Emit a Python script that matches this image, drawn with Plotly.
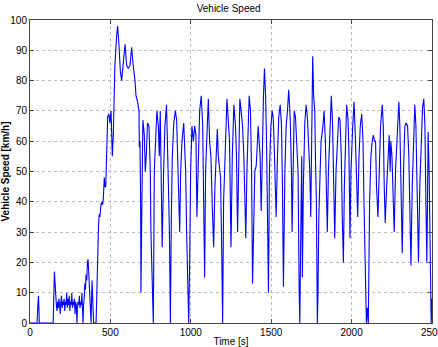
import plotly.graph_objects as go

time_s = [0, 44, 48, 53, 56, 58, 144, 148, 152, 156, 160, 164,
          168, 172, 176, 180, 184, 188, 192, 196, 200, 204, 208, 212, 216, 220, 224, 228,
          232, 236, 240, 244, 248, 252, 256, 260, 264, 268, 272, 276, 280, 284, 288, 292,
          295, 299, 303, 307, 311, 315, 319, 323, 326, 330, 333, 337, 341, 345, 349, 353,
          357, 361, 365, 369, 373, 377, 380, 383, 386, 390, 394, 396, 411, 416, 421, 426,
          431, 435, 441, 446, 451, 456, 462, 466, 471, 477, 483, 491, 497, 504, 512, 518,
          528, 539, 545, 553, 562, 570, 580, 591, 601, 611, 622, 632, 642, 653, 659, 669,
          678, 680, 684, 688, 690, 696, 702, 711, 717, 723, 731, 740, 748, 752, 760, 767,
          773, 781, 789, 798, 804, 810, 818, 822, 831, 839, 849, 855, 861, 867, 873,
          879, 885, 894, 904, 912, 918, 925, 931, 937, 945, 956, 962, 968, 974, 980, 987,
          993, 999, 1007, 1016, 1024, 1032, 1038, 1047, 1055, 1065, 1074, 1080, 1086, 1092,
          1101, 1109, 1117, 1125, 1134, 1142, 1150, 1159, 1165, 1171, 1179, 1185, 1192, 1198,
          1204, 1210, 1219, 1225, 1233, 1241, 1250, 1258, 1268, 1278, 1284, 1291, 1299, 1305,
          1313, 1322, 1330, 1336, 1342, 1349, 1357, 1363, 1371, 1378, 1384, 1390, 1398, 1407,
          1413, 1419, 1425, 1431, 1438, 1444, 1452, 1458, 1465, 1471, 1477, 1483, 1489, 1498,
          1506, 1512, 1518, 1525, 1531, 1539, 1547, 1556, 1564, 1570, 1576, 1585, 1593, 1601,
          1609, 1618, 1626, 1630, 1636, 1643, 1651, 1659, 1667, 1674, 1678, 1684, 1690, 1694,
          1700, 1709, 1717, 1725, 1733, 1740, 1746, 1752, 1758, 1764, 1771, 1775, 1781, 1787,
          1791, 1796, 1802, 1810, 1820, 1829, 1837, 1843, 1849, 1856, 1864, 1874, 1882, 1889,
          1895, 1903, 1911, 1920, 1928, 1936, 1942, 1949, 1955, 1963, 1969, 1978, 1984, 1990,
          1996, 2007, 2015, 2023, 2031, 2038, 2046, 2054, 2063, 2071, 2077, 2085, 2092, 2098,
          2104, 2112, 2120, 2128, 2135, 2143, 2149, 2155, 2164, 2172, 2180, 2191, 2197, 2203,
          2209, 2218, 2226, 2234, 2240, 2244, 2251, 2257, 2265, 2273, 2284, 2294, 2300, 2309,
          2315, 2323, 2331, 2340, 2348, 2356, 2362, 2369, 2377, 2385, 2393, 2400, 2408, 2416,
          2424, 2435, 2441, 2449, 2456, 2462, 2468, 2472, 2476, 2482, 2489, 2493, 2495, 2500]

speed_kmh = [0, 0, 5, 9, 4, 0, 0, 10, 17, 13, 7, 6,
             4, 7, 5, 8, 6, 3, 7, 9, 5, 7, 6, 8, 4, 7, 6, 10,
             5, 8, 6, 9, 4, 7, 6, 10, 5, 7, 6, 8, 3, 7, 6, 0,
             5, 7, 6, 9, 5, 7, 6, 10, 5, 0, 6, 8, 13, 11, 16, 14,
             20, 21, 17, 13, 8, 3, 0, 8, 14, 8, 2, 0, 0, 15, 28, 32,
             36, 35, 39, 40, 39, 41, 48, 45, 45, 60, 68, 69, 66, 70, 55, 62,
             85, 95, 98, 92, 83, 80, 85, 92, 85, 84, 85, 91, 85, 80, 75, 73,
             70, 58, 60, 40, 10, 40, 67, 62, 50, 55, 66, 65, 50, 30, 10, 0,
             50, 60, 70, 65, 55, 70, 40, 25, 50, 65, 72, 62, 45, 30, 0,
             35, 55, 66, 70, 67, 55, 40, 30, 50, 60, 66, 55, 50, 30, 10, 0,
             20, 50, 65, 60, 65, 62, 35, 55, 70, 75, 65, 40, 15, 50,
             65, 74, 60, 55, 38, 25, 45, 60, 64, 55, 50, 48, 25, 0,
             40, 50, 60, 74, 67, 60, 25, 55, 72, 65, 55, 30, 55, 74,
             70, 65, 55, 40, 28, 50, 65, 75, 70, 50, 13, 35, 50, 52,
             58, 65, 60, 55, 37, 60, 75, 84, 75, 60, 40, 10, 50, 65,
             70, 68, 60, 50, 35, 55, 68, 72, 65, 45, 12, 50, 65, 70,
             77, 68, 50, 30, 50, 70, 68, 60, 50, 10, 0, 30, 55, 15,
             45, 66, 72, 68, 60, 50, 35, 70, 88, 75, 70, 55, 40, 0,
             10, 35, 50, 60, 64, 70, 60, 45, 30, 50, 65, 75, 65, 50,
             28, 50, 60, 68, 67, 55, 35, 20, 45, 65, 72, 67, 55, 28,
             50, 65, 73, 62, 50, 35, 55, 65, 69, 60, 40, 10, 0, 5,
             0, 40, 55, 60, 62, 60, 60, 45, 35, 50, 65, 72, 65, 45,
             33, 45, 55, 62, 50, 60, 55, 45, 30, 50, 65, 73, 65, 45,
             23, 50, 65, 66, 65, 55, 40, 19, 45, 60, 72, 65, 40, 20,
             45, 65, 71, 74, 65, 40, 20, 40, 63, 50, 20, 10, 0, 8]

x_ticks = [0, 500, 1000, 1500, 2000, 2500]
y_ticks = [0, 10, 20, 30, 40, 50, 60, 70, 80, 90, 100]

FONT = "Liberation Sans, Arial"

fig = go.Figure()
fig.add_trace(go.Scatter(x=time_s, y=speed_kmh, mode="lines",
                         line=dict(color="rgb(0,0,255)", width=1.1),
                         showlegend=False, cliponaxis=False))

axis_common = dict(showline=True, linecolor="#444", linewidth=1, mirror="allticks",
                   ticks="inside", ticklen=4, tickcolor="#444", automargin=False,
                   showgrid=True, gridcolor="#bbb", griddash="dot", gridwidth=1,
                   zeroline=False, ticklabeloverflow="allow",
                   tickfont=dict(family=FONT, size=10, color="#000"))

fig.update_layout(
    width=438, height=347,
    margin=dict(l=30, r=6, t=20, b=24),
    paper_bgcolor="white", plot_bgcolor="white",
    title=dict(text="Vehicle Speed", x=0.522, xanchor="center", y=0.985, yanchor="top",
               font=dict(family=FONT, size=10, color="#000")),
    xaxis=dict(range=[0, 2500], tickvals=x_ticks, ticktext=[str(v) for v in x_ticks],
               **axis_common,
               title=dict(text="Time [s]", standoff=0,
                          font=dict(family=FONT, size=10, color="#000"))),
    yaxis=dict(range=[0, 100], tickvals=y_ticks, **axis_common,
               title=dict(text="<b>Vehicle Speed [km/h]</b>", standoff=6,
                          font=dict(family=FONT, size=10, color="#000"))),
)

fig.write_html("out.html")
